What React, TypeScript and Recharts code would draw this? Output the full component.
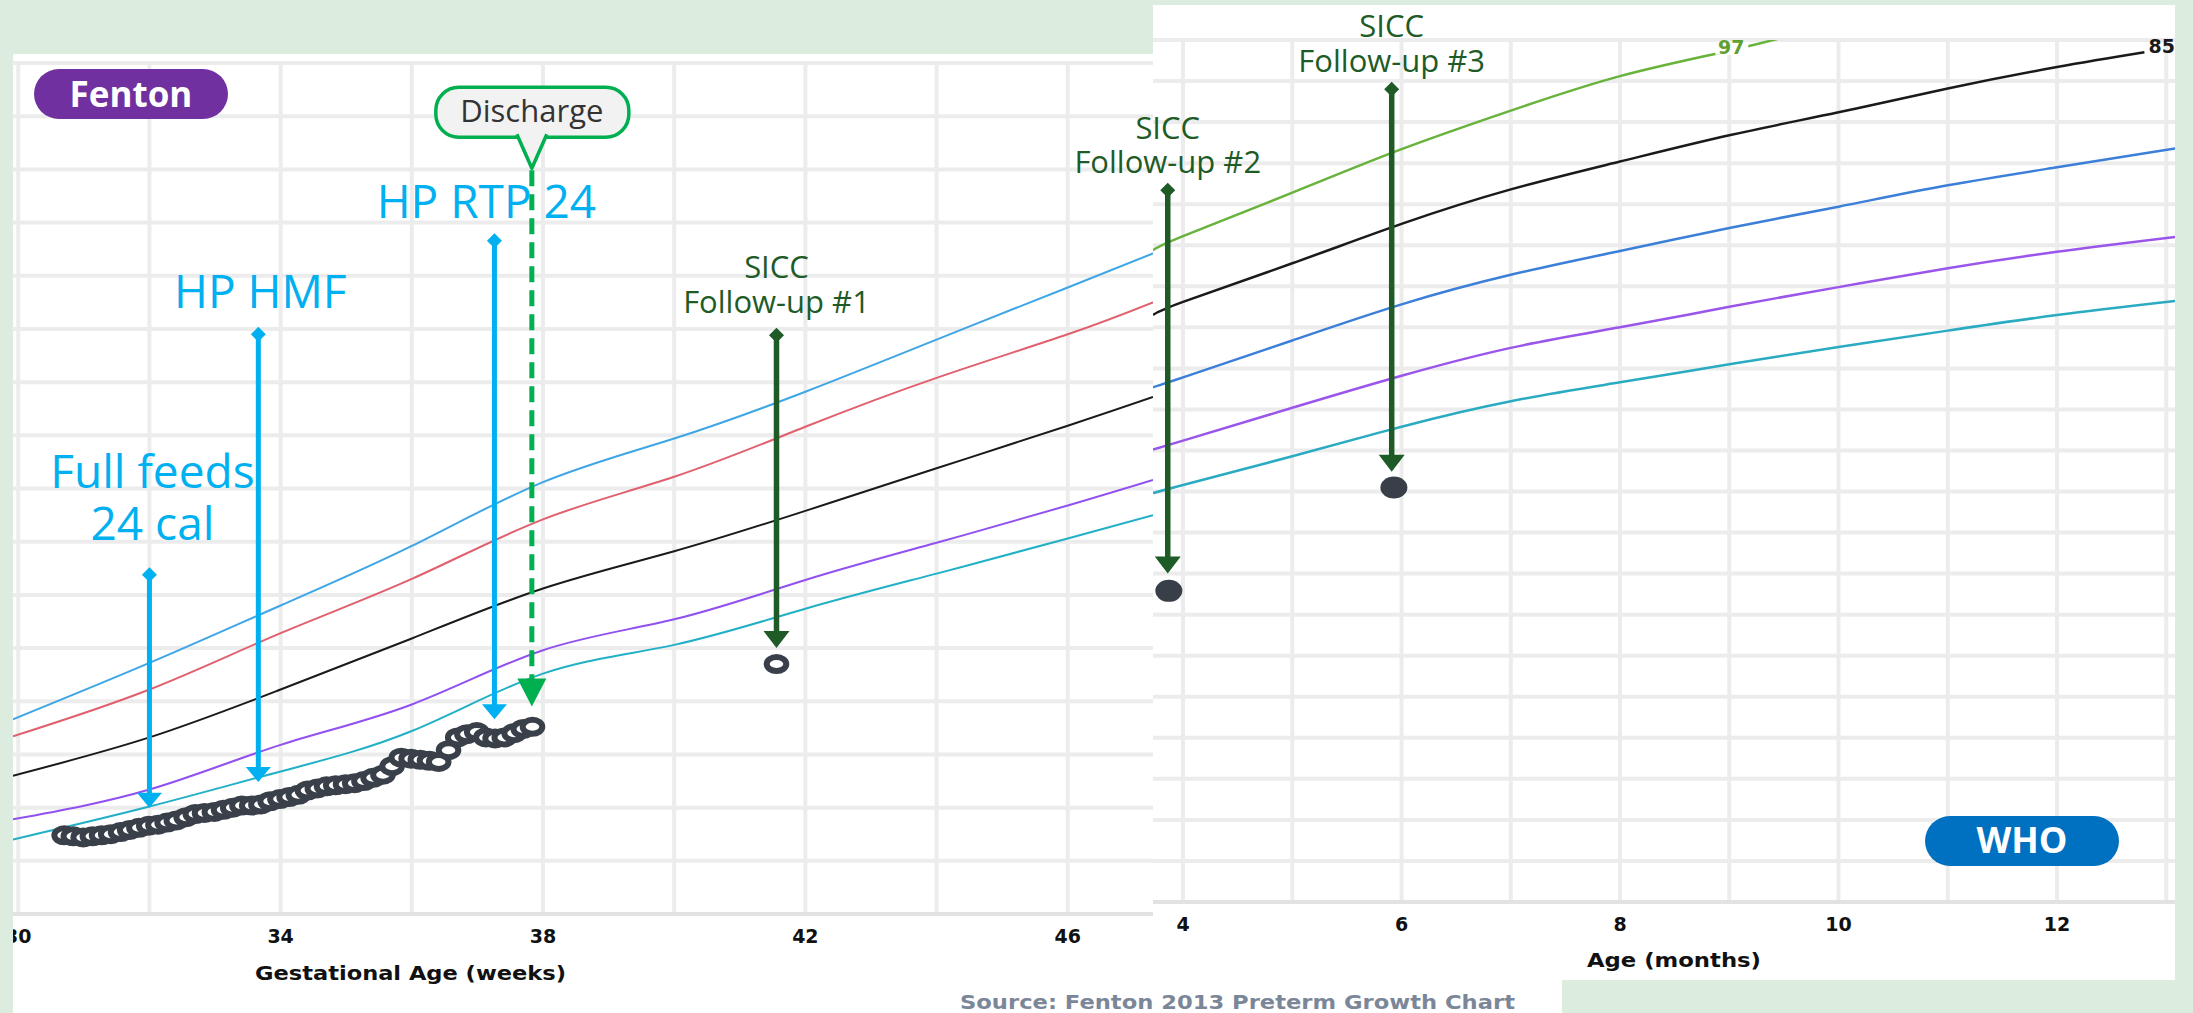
import React from 'react';
import { ComposedChart, Line, Scatter, XAxis, YAxis, CartesianGrid, ReferenceLine, LabelList } from 'recharts';

// ---------------- Fenton (gestational age in weeks, weight in kg) ----------------
const fentonWeeks = [29.92, 32, 34, 36, 38, 40, 42, 44, 46, 47.3];
const fentonP97 = [1.83, 2.36, 2.9, 3.46, 4.06, 4.47, 4.91, 5.4, 5.89, 6.21];
const fentonP90 = [1.67, 2.11, 2.64, 3.15, 3.71, 4.11, 4.58, 5.04, 5.45, 5.75];
const fentonP50 = [1.3, 1.66, 2.11, 2.59, 3.06, 3.41, 3.79, 4.19, 4.59, 4.86];
const fentonP10 = [0.89, 1.17, 1.59, 1.97, 2.48, 2.77, 3.14, 3.49, 3.84, 4.08];
const fentonP3 = [0.7, 1.01, 1.34, 1.72, 2.26, 2.53, 2.87, 3.2, 3.53, 3.75];

const patientWeeks = [
  30.7, 30.84, 30.99, 31.13, 31.27, 31.41, 31.56, 31.7, 31.84, 31.99,
  32.13, 32.27, 32.41, 32.56, 32.7, 32.84, 32.99, 33.13, 33.27, 33.41,
  33.56, 33.7, 33.84, 33.99, 34.13, 34.27, 34.41, 34.56, 34.7, 34.84,
  34.99, 35.13, 35.27, 35.41, 35.56, 35.7, 35.84, 35.99, 36.13, 36.27,
  36.41, 36.56, 36.7, 36.84, 36.99, 37.13, 37.27, 37.41, 37.56, 37.7, 37.84,
];
const patientKg = [
  0.74, 0.73, 0.72, 0.73, 0.74, 0.75, 0.77, 0.79, 0.81, 0.83,
  0.84, 0.86, 0.88, 0.91, 0.94, 0.95, 0.96, 0.98, 1.0, 1.02,
  1.02, 1.03, 1.06, 1.08, 1.1, 1.12, 1.16, 1.18, 1.2, 1.21,
  1.22, 1.23, 1.25, 1.28, 1.31, 1.39, 1.47, 1.46, 1.45, 1.44,
  1.43, 1.54, 1.66, 1.69, 1.71, 1.66, 1.65, 1.66, 1.7, 1.74, 1.76,
];
const followUp1Weeks = [41.56];
const followUp1Kg = [2.35];

const fentonGridWeeks = [30, 32, 34, 36, 38, 40, 42, 44, 46];
const fentonTickLabels = [30, 34, 38, 42, 46];
const fentonGridKg = [0, 0.5, 1, 1.5, 2, 2.5, 3, 3.5, 4, 4.5, 5, 5.5, 6, 6.5, 7, 7.5, 8];

const fentonArrowLabels = [['Full feeds', '24 cal'], ['HP HMF'], ['HP RTP 24'], ['SICC', 'Follow-up #1']];
const fentonArrowWeeks = [32.0, 33.66, 37.26, 41.56];
const fentonArrowFromKg = [3.26, 5.52, 6.4, 5.51];
const fentonArrowToKg = [1.0, 1.24, 1.83, 2.5];

const dischargeLabel = 'Discharge';
const dischargeWeek = 37.83;
const dischargeFromKg = 7.01;
const dischargeToKg = 1.95;

// ---------------- WHO (age in months, weight in kg) ----------------
const whoMonths = [3.725, 4, 5, 6, 7, 8, 9, 10, 11, 12, 13.08];
const whoP97Months = [3.725, 4, 5, 6, 7, 8, 9, 9.72];
const whoP97 = [7.94, 8.11, 8.64, 9.17, 9.64, 10.06, 10.37, 10.61];
const whoP85Months = [3.725, 4, 5, 6, 7, 8, 9, 10, 11, 12, 12.8];
const whoP85 = [7.15, 7.31, 7.78, 8.26, 8.68, 9.02, 9.34, 9.62, 9.91, 10.17, 10.35];
const whoP50 = [6.27, 6.39, 6.84, 7.28, 7.64, 7.93, 8.21, 8.47, 8.73, 8.95, 9.18];
const whoP15 = [5.51, 5.62, 6.02, 6.41, 6.75, 7.0, 7.25, 7.49, 7.72, 7.92, 8.1];
const whoP3 = [4.98, 5.08, 5.43, 5.79, 6.1, 6.33, 6.55, 6.76, 6.96, 7.15, 7.32];

const whoVisitMonths = [3.87, 5.93];
const whoVisitKg = [3.79, 5.05];

const whoGridMonths = [4, 5, 6, 7, 8, 9, 10, 11, 12, 13];
const whoTickLabels = [4, 6, 8, 10, 12];
const whoGridKg = [0, 0.5, 1, 1.5, 2, 2.5, 3, 3.5, 4, 4.5, 5, 5.5, 6, 6.5, 7, 7.5, 8, 8.5, 9, 9.5, 10, 10.5];

const whoArrowLabels = [['SICC', 'Follow-up #2'], ['SICC', 'Follow-up #3']];
const whoArrowMonths = [3.86, 5.91];
const whoArrowFromKg = [8.76, 9.99];
const whoArrowToKg = [4.0, 5.24];

// ---------------- helpers & styles ----------------
const pts = (xs: number[], ys: number[]) => xs.map((x, i) => ({ x, y: ys[i] }));

const FONT = "'Open Sans', 'Noto Sans', sans-serif";
const AXIS_FONT = "'DejaVu Sans', 'Liberation Sans', sans-serif";
const LIGHT_BLUE = '#00b0f0';
const DARK_GREEN = '#1e5b27';
const GREEN = '#00b050';
const GRID = '#ececec';

type ArrowStyle = {
  color: string; width: number; headW: number; headH: number;
  fontSize: number; lh: number; gap: number; dx: number;
};
const blueStyle = { color: LIGHT_BLUE, width: 5, headW: 25, headH: 15, fontSize: 46, lh: 52 };
const greenStyle = { color: DARK_GREEN, width: 5.5, headW: 26, headH: 17, fontSize: 31, lh: 35 };
const fentonArrowStyles: ArrowStyle[] = [
  { ...blueStyle, gap: 27, dx: 3 },
  { ...blueStyle, gap: 19, dx: 2 },
  { ...blueStyle, gap: 15, dx: -8 },
  { ...greenStyle, gap: 15, dx: 0 },
];
const whoArrowStyles: ArrowStyle[] = [
  { ...greenStyle, lh: 34, gap: 10, dx: 0 },
  { ...greenStyle, gap: 10, dx: 0 },
];

const makeArrow = (lines: string[], st: ArrowStyle) => (p: any) => {
  const x = p.x1;
  const top = Math.min(p.y1, p.y2);
  const tip = Math.max(p.y1, p.y2);
  const headTop = tip - st.headH;
  const n = lines.length;
  const firstY = top - st.gap - (n - 1) * st.lh;
  return (
    <g>
      <line x1={x} y1={top + 7} x2={x} y2={headTop + 1} stroke={st.color} strokeWidth={st.width} />
      <polygon points={`${x},${top} ${x + 7.5},${top + 7.5} ${x},${top + 15} ${x - 7.5},${top + 7.5}`} fill={st.color} />
      <polygon points={`${x - st.headW / 2},${headTop} ${x + st.headW / 2},${headTop} ${x},${tip}`} fill={st.color} />
      <text x={x + st.dx} y={firstY} textAnchor="middle" fontFamily={FONT} fontSize={st.fontSize} fill={st.color}>
        {lines.map((t, i) => (
          <tspan key={i} x={x + st.dx} dy={i === 0 ? 0 : st.lh}>{t}</tspan>
        ))}
      </text>
    </g>
  );
};

const dischargeShape = (p: any) => {
  const x = p.x1;
  const top = Math.min(p.y1, p.y2);
  const tip = Math.max(p.y1, p.y2);
  const headTop = tip - 28;
  return (
    <g>
      <line x1={x} y1={top + 2} x2={x} y2={headTop + 2} stroke={GREEN} strokeWidth={5} strokeDasharray="16 8" />
      <polygon points={`${x - 14.5},${headTop} ${x + 14.5},${headTop} ${x},${tip}`} fill={GREEN} />
      <rect x={x - 96} y={top - 81} width={193} height={50} rx={23} ry={23} fill="#f2f2f2" stroke={GREEN} strokeWidth={3.5} />
      <path d={`M${x - 15},${top - 34} L${x},${top} L${x + 15},${top - 34}`} fill="#f2f2f2" stroke={GREEN} strokeWidth={3.5} strokeLinejoin="round" />
      <text x={x} y={top - 46} textAnchor="middle" fontFamily={FONT} fontSize={31} fill="#333">{dischargeLabel}</text>
    </g>
  );
};

const Ring = (p: any) => (
  <ellipse cx={p.cx} cy={p.cy} rx={9.8} ry={7} fill="#fff" stroke="#3a4049" strokeWidth={6} />
);
const FilledDot = (p: any) => <ellipse cx={p.cx} cy={p.cy} rx={13.5} ry={11} fill="#383f48" />;

const makeTick = (labels: number[]) => (p: any) => {
  const v = p.payload?.value;
  if (!labels.includes(v)) return <g />;
  return (
    <text x={p.x} y={p.y + 29} textAnchor="middle" fontFamily={AXIS_FONT} fontWeight="bold" fontSize={19} fill="#111">{v}</text>
  );
};

const lineLabel = (at: number, text: string, color: string, mode: 'mid' | 'end') => (p: any) => {
  if (p.index !== at) return null;
  const x = p.x ?? p.viewBox?.x;
  const y = p.y ?? p.viewBox?.y;
  if (mode === 'mid') {
    return (
      <g>
        <rect x={x - 14} y={y - 9} width={33} height={13} fill="#fff" />
        <text x={x + 2} y={y + 3} textAnchor="middle" fontFamily={AXIS_FONT} fontWeight="bold" fontSize={19} fill={color}>{text}</text>
      </g>
    );
  }
  return (
    <text x={x + 4} y={y + 1} textAnchor="start" fontFamily={AXIS_FONT} fontWeight="bold" fontSize={19} fill={color}>{text}</text>
  );
};

const CURVE = 'natural' as const;

function FentonChart() {
  return (
    <ComposedChart width={1160} height={1013} margin={{ top: 63, right: 7, bottom: 69, left: 13 }}>
      <CartesianGrid stroke={GRID} strokeWidth={4} horizontalValues={fentonGridKg} verticalValues={fentonGridWeeks} />
      <XAxis type="number" dataKey="x" domain={[29.92, 47.3]} allowDataOverflow ticks={fentonGridWeeks} interval={0}
        tickLine={false} tickSize={0} tickMargin={0} axisLine={{ stroke: '#e2e2e2', strokeWidth: 4 }} height={30}
        tick={makeTick(fentonTickLabels)} />
      <YAxis type="number" dataKey="y" domain={[0, 8]} allowDataOverflow ticks={fentonGridKg} hide />
      <Line data={pts(fentonWeeks, fentonP97)} dataKey="y" type={CURVE} stroke="#3ea6e6" strokeWidth={2} dot={false} activeDot={false} isAnimationActive={false} />
      <Line data={pts(fentonWeeks, fentonP90)} dataKey="y" type={CURVE} stroke="#e0606d" strokeWidth={2} dot={false} activeDot={false} isAnimationActive={false} />
      <Line data={pts(fentonWeeks, fentonP50)} dataKey="y" type={CURVE} stroke="#1a1a1a" strokeWidth={2} dot={false} activeDot={false} isAnimationActive={false} />
      <Line data={pts(fentonWeeks, fentonP10)} dataKey="y" type={CURVE} stroke="#9150f0" strokeWidth={2} dot={false} activeDot={false} isAnimationActive={false} />
      <Line data={pts(fentonWeeks, fentonP3)} dataKey="y" type={CURVE} stroke="#22b0c6" strokeWidth={2} dot={false} activeDot={false} isAnimationActive={false} />
      <Scatter data={pts(patientWeeks, patientKg)} dataKey="y" shape={Ring} isAnimationActive={false} />
      <Scatter data={pts(followUp1Weeks, followUp1Kg)} dataKey="y" shape={Ring} isAnimationActive={false} />
      {fentonArrowLabels.map((lines, i) => (
        <ReferenceLine key={i}
          segment={[{ x: fentonArrowWeeks[i], y: fentonArrowFromKg[i] }, { x: fentonArrowWeeks[i], y: fentonArrowToKg[i] }]}
          shape={makeArrow(lines, fentonArrowStyles[i])} />
      ))}
      <ReferenceLine segment={[{ x: dischargeWeek, y: dischargeFromKg }, { x: dischargeWeek, y: dischargeToKg }]} shape={dischargeShape} />
    </ComposedChart>
  );
}

function WhoChart() {
  return (
    <ComposedChart width={2193} height={1013} margin={{ top: 40, right: 18, bottom: 81, left: 1153 }}>
      <CartesianGrid stroke={GRID} strokeWidth={4} horizontalValues={whoGridKg} verticalValues={whoGridMonths} />
      <XAxis type="number" dataKey="x" domain={[3.725, 13.08]} allowDataOverflow ticks={whoGridMonths} interval={0}
        tickLine={false} tickSize={0} tickMargin={0} axisLine={{ stroke: '#e2e2e2', strokeWidth: 4 }} height={30}
        tick={makeTick(whoTickLabels)} />
      <YAxis type="number" dataKey="y" domain={[0, 10.5]} allowDataOverflow ticks={whoGridKg} hide />
      <Line data={pts(whoP97Months, whoP97)} dataKey="y" type={CURVE} stroke="#68b33c" strokeWidth={2.5} dot={false} activeDot={false} isAnimationActive={false}>
        <LabelList dataKey="y" content={lineLabel(6, '97', '#5ea130', 'mid')} />
      </Line>
      <Line data={pts(whoP85Months, whoP85)} dataKey="y" type={CURVE} stroke="#1a1a1a" strokeWidth={2.5} dot={false} activeDot={false} isAnimationActive={false}>
        <LabelList dataKey="y" content={lineLabel(whoP85.length - 1, '85', '#1a1a1a', 'end')} />
      </Line>
      <Line data={pts(whoMonths, whoP50)} dataKey="y" type={CURVE} stroke="#3c7fd8" strokeWidth={2.5} dot={false} activeDot={false} isAnimationActive={false} />
      <Line data={pts(whoMonths, whoP15)} dataKey="y" type={CURVE} stroke="#9a56ea" strokeWidth={2.5} dot={false} activeDot={false} isAnimationActive={false} />
      <Line data={pts(whoMonths, whoP3)} dataKey="y" type={CURVE} stroke="#2aabc2" strokeWidth={2.5} dot={false} activeDot={false} isAnimationActive={false} />
      <Scatter data={pts(whoVisitMonths, whoVisitKg)} dataKey="y" shape={FilledDot} isAnimationActive={false} />
      {whoArrowLabels.map((lines, i) => (
        <ReferenceLine key={i}
          segment={[{ x: whoArrowMonths[i], y: whoArrowFromKg[i] }, { x: whoArrowMonths[i], y: whoArrowToKg[i] }]}
          shape={makeArrow(lines, whoArrowStyles[i])} />
      ))}
    </ComposedChart>
  );
}

export default function App() {
  return (
    <div style={{ position: 'absolute', left: 0, top: 0, width: 2193, height: 1013, background: '#dcecdf', overflow: 'hidden' }}>
      <div style={{ position: 'absolute', left: 13, top: 54, width: 1140, height: 959, background: '#fff', overflow: 'hidden' }}>
        <div style={{ position: 'absolute', left: -13, top: -54 }}>
          <FentonChart />
        </div>
      </div>
      <div style={{ position: 'absolute', left: 1153, top: 5, width: 1022, height: 975, background: '#fff' }} />
      <div style={{ position: 'absolute', left: 1153, top: 980, width: 409, height: 33, background: '#fff' }} />
      <div style={{ position: 'absolute', left: 0, top: 0 }}>
        <WhoChart />
      </div>
      <svg width={2193} height={1013} style={{ position: 'absolute', left: 0, top: 0, pointerEvents: 'none' }}>
        <rect x={34} y={69} width={194} height={50} rx={25} fill="#7030a0" />
        <text x={131} y={107} textAnchor="middle" fontFamily={FONT} fontWeight="bold" fontSize={35} fill="#fff">Fenton</text>
        <rect x={1925} y={816} width={194} height={50} rx={25} fill="#0070c0" />
        <text x={2022} y={853} textAnchor="middle" fontFamily={FONT} fontWeight="bold" fontSize={36} fill="#fff">WHO</text>
        <text x={255} y={980} textLength={311} lengthAdjust="spacingAndGlyphs" fontFamily={AXIS_FONT} fontWeight="bold" fontSize={20} fill="#111">Gestational Age (weeks)</text>
        <text x={1587} y={967} textLength={174} lengthAdjust="spacingAndGlyphs" fontFamily={AXIS_FONT} fontWeight="bold" fontSize={20} fill="#111">Age (months)</text>
        <text x={960} y={1009} textLength={555} lengthAdjust="spacingAndGlyphs" fontFamily={AXIS_FONT} fontWeight="bold" fontSize={20} fill="#7b8799">Source: Fenton 2013 Preterm Growth Chart</text>
      </svg>
    </div>
  );
}
